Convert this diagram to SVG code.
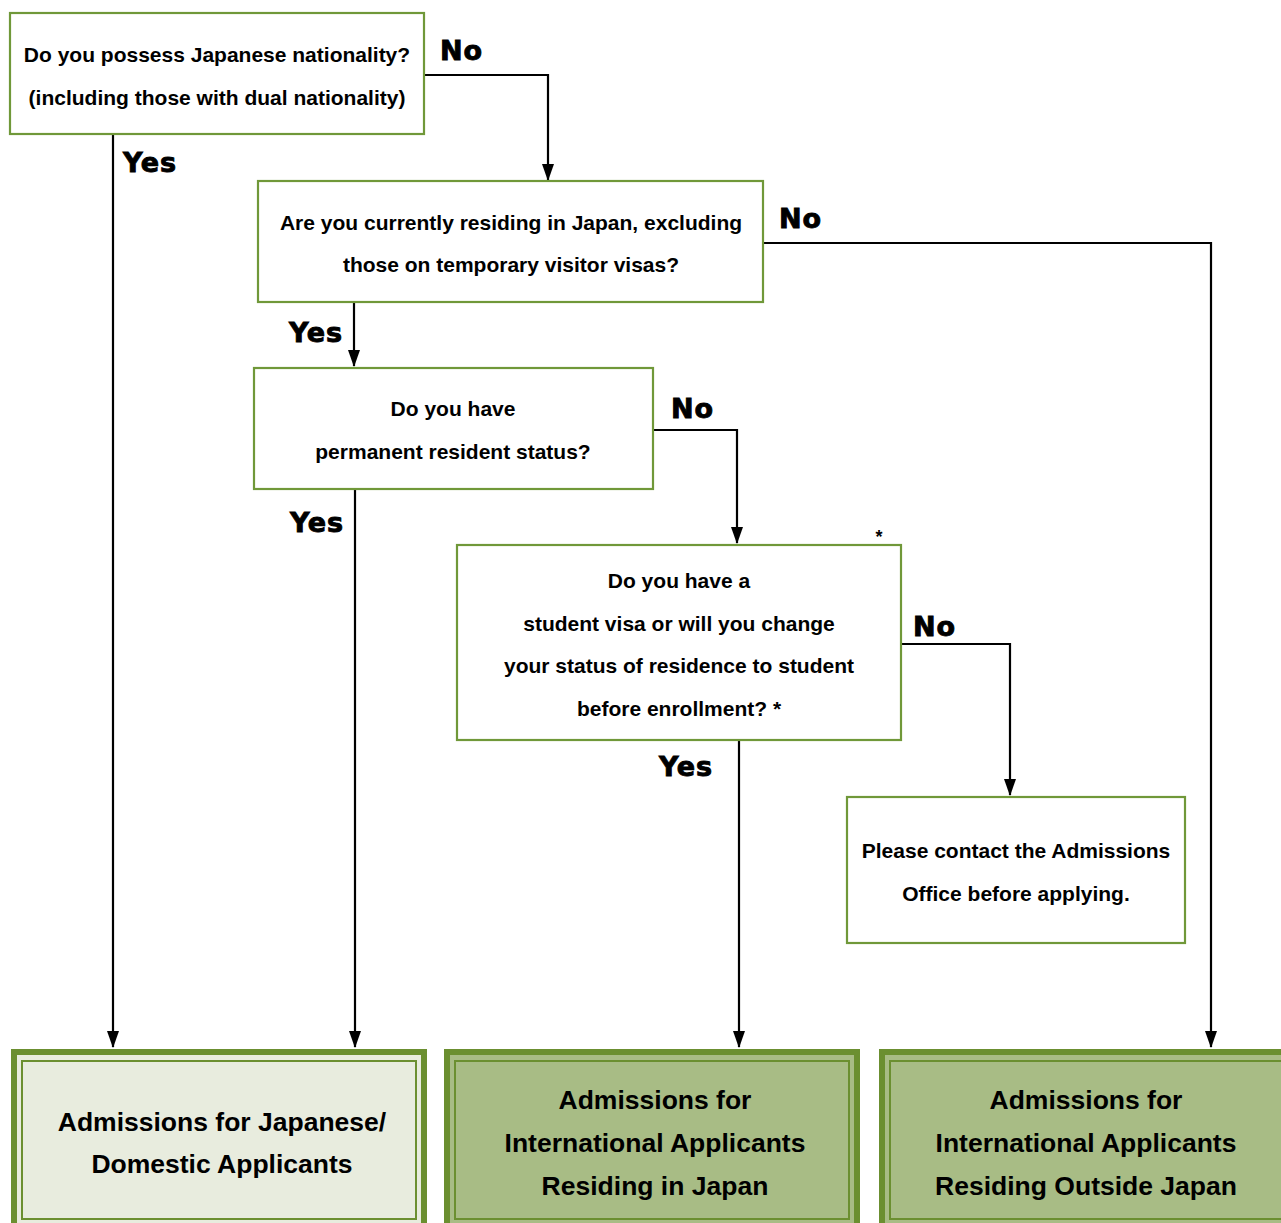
<svg xmlns="http://www.w3.org/2000/svg" width="1281" height="1223" viewBox="0 0 1281 1223">
<style>
.q{fill:#ffffff;stroke:#709839;stroke-width:2.2}
.qt{font-family:"Liberation Sans",Arial,sans-serif;font-weight:bold;font-size:21px;fill:#000;text-anchor:middle}
.lbl{font-family:"DejaVu Sans",sans-serif;font-weight:bold;font-size:27px;fill:#000;stroke:#000;stroke-width:0.9;letter-spacing:0.8px}
.conn{fill:none;stroke:#000;stroke-width:2.2}
.outer{stroke:#6b8f30;stroke-width:6}
.inner{fill:none;stroke:#6b8f30;stroke-width:2}
.bt{font-family:"Liberation Sans",Arial,sans-serif;font-weight:bold;font-size:26.5px;fill:#000;text-anchor:middle}
</style>
<defs>
<marker id="arr" markerUnits="userSpaceOnUse" markerWidth="17" markerHeight="12" viewBox="0 0 17 12" refX="16" refY="6" orient="auto">
<path d="M0,0 L17,6 L0,12 z" fill="#000"/>
</marker>
</defs>
<rect width="1281" height="1223" fill="#ffffff"/>

<g id="connectors">
<polyline class="conn" points="424,75 548,75 548,180" marker-end="url(#arr)"/>
<polyline class="conn" points="113,134 113,1047" marker-end="url(#arr)"/>
<polyline class="conn" points="763,243 1211,243 1211,1047" marker-end="url(#arr)"/>
<polyline class="conn" points="354,302 354,366" marker-end="url(#arr)"/>
<polyline class="conn" points="653,430 737,430 737,543" marker-end="url(#arr)"/>
<polyline class="conn" points="355,489 355,1047" marker-end="url(#arr)"/>
<polyline class="conn" points="901,644 1010,644 1010,795" marker-end="url(#arr)"/>
<polyline class="conn" points="739,740 739,1047" marker-end="url(#arr)"/>
</g>

<g id="labels">
<text class="lbl" x="440" y="60">No</text>
<text class="lbl" x="123" y="172">Yes</text>
<text class="lbl" x="779" y="228">No</text>
<text class="lbl" x="289" y="342">Yes</text>
<text class="lbl" x="671" y="418">No</text>
<text class="lbl" x="290" y="532">Yes</text>
<text class="lbl" x="913" y="636">No</text>
<text class="lbl" x="659" y="776">Yes</text>
<text x="879" y="543" font-family="Liberation Sans, Arial, sans-serif" font-weight="bold" font-size="18" text-anchor="middle">*</text>
</g>

<g id="q1">
<rect class="q" x="10" y="13" width="414" height="121"/>
<text class="qt" x="217" y="62">Do you possess Japanese nationality?</text>
<text class="qt" x="217" y="105">(including those with dual nationality)</text>
</g>

<g id="q2">
<rect class="q" x="258" y="181" width="505" height="121"/>
<text class="qt" x="511" y="230">Are you currently residing in Japan, excluding</text>
<text class="qt" x="511" y="272">those on temporary visitor visas?</text>
</g>

<g id="q3">
<rect class="q" x="254" y="368" width="399" height="121"/>
<text class="qt" x="453" y="416">Do you have</text>
<text class="qt" x="453" y="459">permanent resident status?</text>
</g>

<g id="q4">
<rect class="q" x="457" y="545" width="444" height="195"/>
<text class="qt" x="679" y="588">Do you have a</text>
<text class="qt" x="679" y="631">student visa or will you change</text>
<text class="qt" x="679" y="673">your status of residence to student</text>
<text class="qt" x="679" y="716">before enrollment? *</text>
</g>

<g id="contact">
<rect class="q" x="847" y="797" width="338" height="146"/>
<text class="qt" x="1016" y="858">Please contact the Admissions</text>
<text class="qt" x="1016" y="901">Office before applying.</text>
</g>

<g id="result-domestic">
<rect class="outer" x="14" y="1052" width="410" height="190" fill="#e8ecde"/>
<rect class="inner" x="22" y="1061" width="394" height="158"/>
<text class="bt" x="222" y="1131">Admissions for Japanese/</text>
<text class="bt" x="222" y="1173">Domestic Applicants</text>
</g>

<g id="result-intl-japan">
<rect class="outer" x="447" y="1052" width="410" height="190" fill="#a8bc85"/>
<rect class="inner" x="455" y="1061" width="394" height="158"/>
<text class="bt" x="655" y="1109">Admissions for</text>
<text class="bt" x="655" y="1152">International Applicants</text>
<text class="bt" x="655" y="1195">Residing in Japan</text>
</g>

<g id="result-intl-outside">
<rect class="outer" x="882" y="1052" width="410" height="190" fill="#a8bc85"/>
<rect class="inner" x="890" y="1061" width="394" height="158"/>
<text class="bt" x="1086" y="1109">Admissions for</text>
<text class="bt" x="1086" y="1152">International Applicants</text>
<text class="bt" x="1086" y="1195">Residing Outside Japan</text>
</g>
</svg>
